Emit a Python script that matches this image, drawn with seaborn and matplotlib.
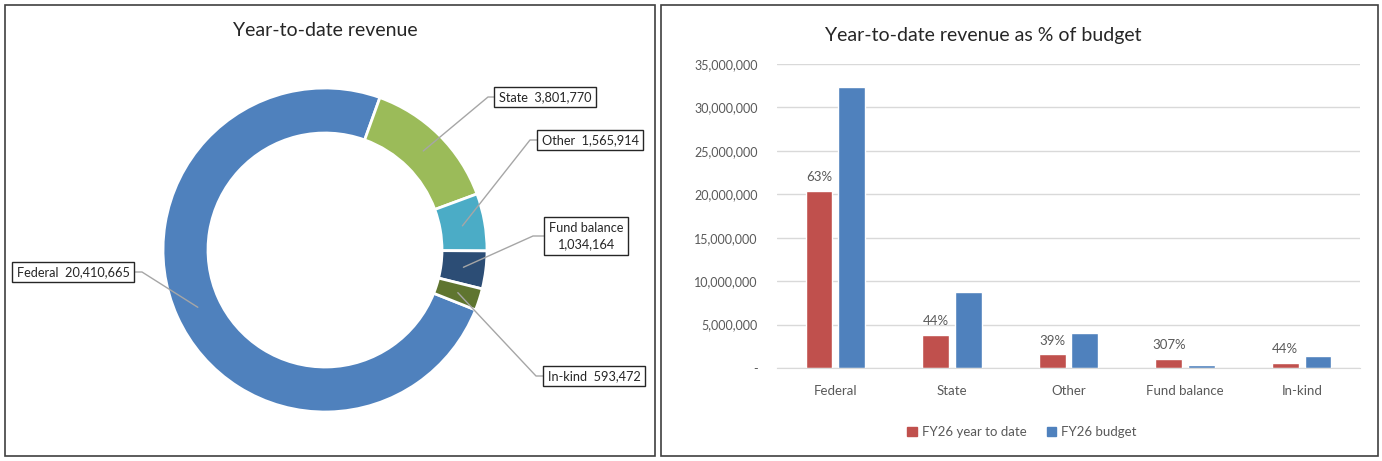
import seaborn as sns
import matplotlib.pyplot as plt
import pandas as pd
import numpy as np
from matplotlib.patches import Rectangle, Patch
from matplotlib.ticker import FuncFormatter, MultipleLocator

sns.set_style("white")
plt.rcParams['font.family'] = ['Lato', 'DejaVu Sans']

# data
categories = ['Federal', 'State', 'Other', 'Fund balance', 'In-kind']
ytd_revenue = [20410665, 3801770, 1565914, 1034164, 593472]
budget = [32300000, 8700000, 4000000, 337000, 1350000]
series_names = ['FY26 year to date', 'FY26 budget']

donut_colors = ['#4F81BD', '#9BBB59', '#4BACC6', '#2C4D75', '#5F7530']
bar_colors = ['#C0504D', '#4F81BD']
grey_text = '#595959'

# label boxes for the donut (pixel coords, y measured from top): box centre, elbow of leader line
label_layout = {
    'Federal': ((73, 272), (142, 272)),
    'State': ((545, 97), (488, 97)),
    'Other': ((590, 140), (530, 140)),
    'Fund balance': ((586, 236), (533, 236)),
    'In-kind': ((594, 376), (536, 376)),
}

W, H = 1382, 461
fig = plt.figure(figsize=(W / 100, H / 100), dpi=100)

# ---------- left panel: donut ----------
ax1 = fig.add_axes([0, 0, 660 / W, 1])
cx, cy, r_out, ring = 325, H - 250, 162, 45
wedges, _ = ax1.pie(ytd_revenue, colors=donut_colors, startangle=-21.7, counterclock=False,
                    radius=r_out, center=(cx, cy),
                    wedgeprops=dict(width=ring, edgecolor='white', linewidth=2))
ax1.set_xlim(0, 660)
ax1.set_ylim(0, H)
ax1.set_aspect('auto')
ax1.axis('off')

r_mid = r_out - ring / 2
for w, name, val in zip(wedges, categories, ytd_revenue):
    ang = np.deg2rad((w.theta1 + w.theta2) / 2)
    ax_, ay_ = cx + r_mid * np.cos(ang), cy + r_mid * np.sin(ang)
    (bx, by), (ex, ey) = label_layout[name]
    by, ey = H - by, H - ey
    ax1.plot([ax_, ex, bx], [ay_, ey, by], color='#A6A6A6', lw=1, zorder=3)
    if name == 'Fund balance':
        txt = f"{name}\n{val:,}"
    else:
        txt = f"{name}  {val:,}"
    ax1.text(bx, by, txt, ha='center', va='center', fontsize=9.2, color='#262626',
             linespacing=1.5, zorder=5,
             bbox=dict(boxstyle='square,pad=0.35', fc='white', ec='#262626', lw=1))

fig.text(325 / W, 1 - 30 / H, 'Year-to-date revenue', ha='center', va='center',
         fontsize=14, color='#262626')

# ---------- right panel: grouped bars ----------
df = pd.DataFrame({
    'category': categories * 2,
    'series': [series_names[0]] * len(categories) + [series_names[1]] * len(categories),
    'value': ytd_revenue + budget,
})

ax2 = fig.add_axes([777 / W, (H - 368) / H, 583 / W, 304 / H])
sns.barplot(data=df, x='category', y='value', hue='series', palette=bar_colors,
            width=0.56, gap=0.18, saturation=1, errorbar=None, legend=False, ax=ax2)
ax2.set_ylim(0, 35000000)
ax2.set_xlim(-0.5, len(categories) - 0.5)
ax2.yaxis.set_major_locator(MultipleLocator(5000000))
ax2.yaxis.set_major_formatter(FuncFormatter(lambda v, p: '-' if v == 0 else f'{v:,.0f}'))
ax2.yaxis.grid(True, color='#D9D9D9', lw=1)
ax2.set_axisbelow(True)
for s in ['top', 'right', 'left']:
    ax2.spines[s].set_visible(False)
ax2.spines['bottom'].set_color('#D9D9D9')
ax2.tick_params(axis='both', length=0, labelsize=9.5, labelcolor=grey_text)
ax2.tick_params(axis='y', pad=14, labelsize=9)
ax2.tick_params(axis='x', pad=12)
ax2.set_xlabel('')
ax2.set_ylabel('')

for bar, ytd, bud in zip(ax2.containers[0], ytd_revenue, budget):
    pct = round(ytd / bud * 100)
    ax2.annotate(f'{pct}%', (bar.get_x() + bar.get_width() / 2, bar.get_height()),
                 xytext=(0, 10), textcoords='offset points', ha='center', va='center',
                 fontsize=9.5, color=grey_text)

fig.text(983 / W, 1 - 35 / H, 'Year-to-date revenue as % of budget', ha='center', va='center',
         fontsize=14, color='#262626')

handles = [Patch(color=c) for c in bar_colors]
fig.legend(handles, series_names, loc='center', bbox_to_anchor=(1022 / W, 1 - 432 / H),
           ncol=2, frameon=False, fontsize=9.5, handlelength=0.7, handleheight=0.7,
           handletextpad=0.4, columnspacing=1.5, labelcolor=grey_text)

# panel borders
for x0, x1 in [(5, 655), (661, 1378)]:
    fig.add_artist(Rectangle((x0 / W, 5 / H), (x1 - x0) / W, 451 / H, transform=fig.transFigure,
                             fill=False, ec='#404040', lw=1.2))

fig.savefig('out.png', dpi=100)
